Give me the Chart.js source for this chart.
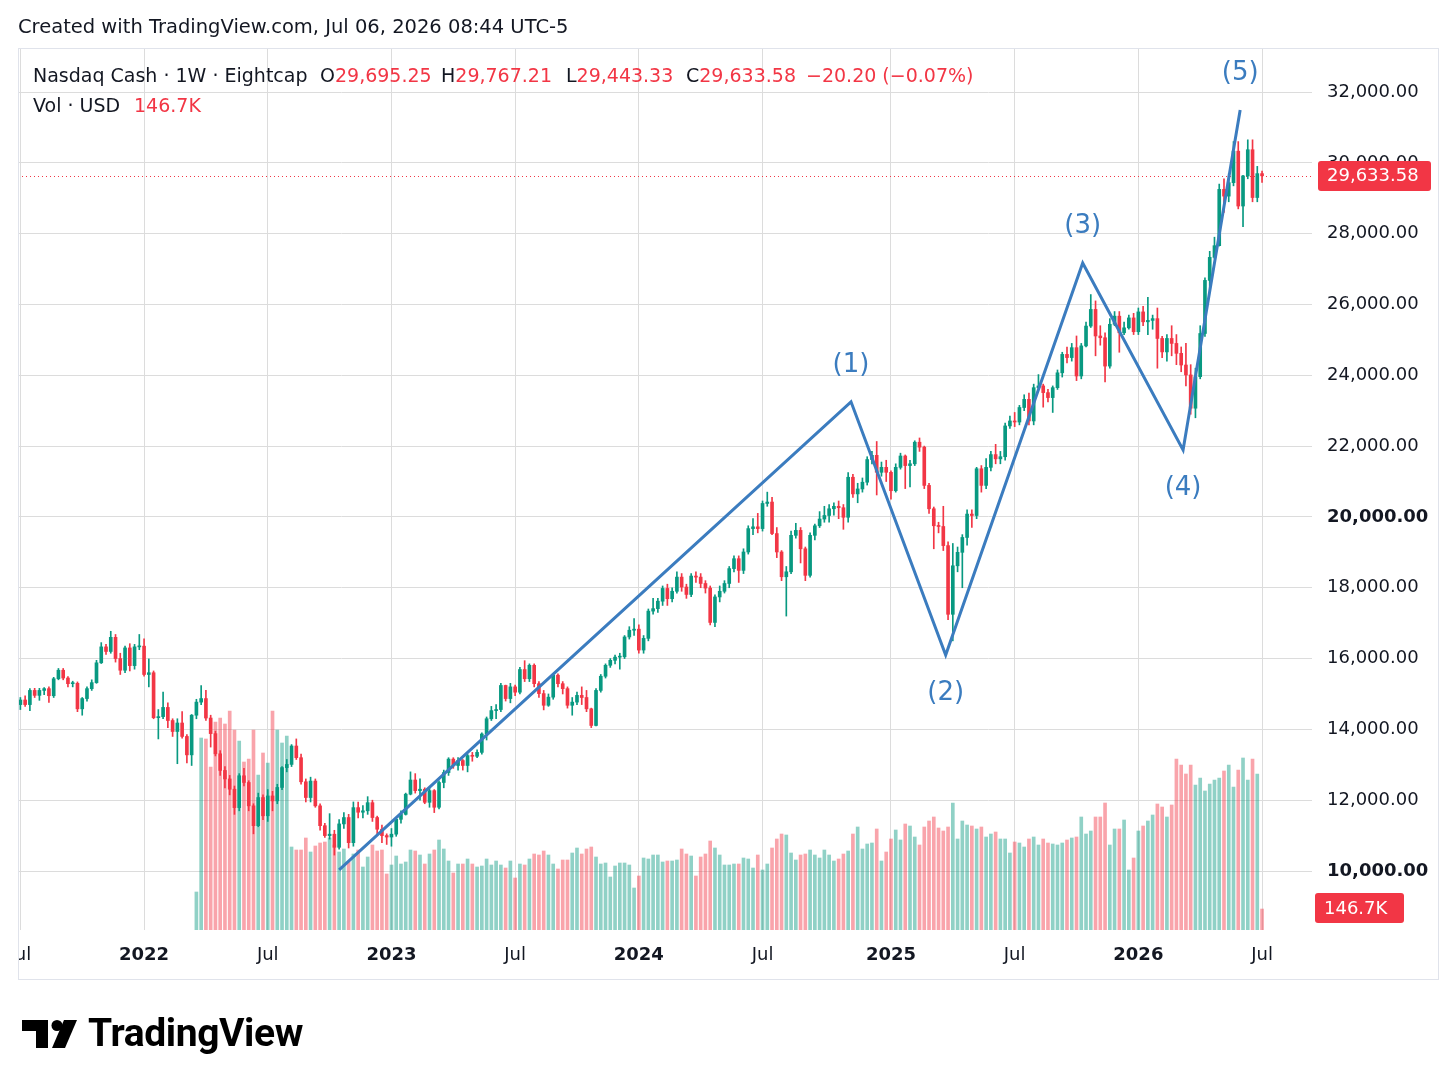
<!DOCTYPE html>
<html>
<head>
<meta charset="utf-8">
<title>Nasdaq Cash 1W</title>
<script src="https://cdn.jsdelivr.net/npm/chart.js@4.4.1/dist/chart.umd.min.js"></script>
<style>
    html, body { margin: 0; padding: 0; background: #fff; }
    #wrap { position: relative; width: 1456px; height: 1088px; font-family: "DejaVu Sans", sans-serif; color: #131722; }
    #chart { position: absolute; left: 0; top: 0; }
    .txt { position: absolute; font-size: 19px; line-height: 22px; white-space: pre; }
    .red { color: #F23645; }
    .logo-text { position: absolute; left: 88px; top: 1010px; font-family: Roboto, sans-serif; font-weight: bold; font-size: 39px; letter-spacing: -0.4px; color: #000; }
</style>
</head>
<body>
<div id="wrap">
    <canvas id="chart" width="1456" height="1088"></canvas>

    <div class="txt" style="left:18px; top:16px; font-size:19.5px;">Created with TradingView.com, Jul 06, 2026 08:44 UTC-5</div>

    <div class="txt" style="left:33px; top:64px;">Nasdaq Cash · 1W · Eightcap</div>
    <div class="txt" style="left:320px; top:64px;">O<span class="red">29,695.25</span></div>
    <div class="txt" style="left:441px; top:64px;">H<span class="red">29,767.21</span></div>
    <div class="txt" style="left:566px; top:64px;">L<span class="red">29,443.33</span></div>
    <div class="txt" style="left:686px; top:64px;">C<span class="red">29,633.58</span></div>
    <div class="txt red" style="left:806px; top:64px;">−20.20 (−0.07%)</div>
    <div class="txt" style="left:33px; top:94px;">Vol · USD</div>
    <div class="txt red" style="left:134px; top:94px;">146.7K</div>

    <svg style="position:absolute; left:22px; top:1020px;" width="56" height="30" viewBox="0 0 56 30">
        <rect x="0" y="0" width="26" height="11" fill="#000"/>
        <rect x="14" y="0" width="12" height="28" fill="#000"/>
        <circle cx="35" cy="5.5" r="5.5" fill="#000"/>
        <polygon points="42,0 55,0 43,28 30,28" fill="#000"/>
    </svg>
    <div class="logo-text">TradingView</div>
</div>

<script>
// ---- weekly candles, first bar = week of 2021-07-05 ----
const startDate = Date.UTC(2021, 6, 5);
const firstOpen = 14700;

const closes = [
    14830, 14700, 15100, 14960, 15100, 15150, 14950, 15430, 15670, 15450,
    15290, 15300, 14580, 14870, 15150, 15320, 15880, 16330, 16200, 16600,
    16000, 15670, 16300, 15800, 16330, 16350, 15550, 15600, 14330, 14360,
    14620, 14250, 13940, 14180, 13800, 13280, 14400, 14770, 14870, 14320,
    13880, 13310, 12840, 12600, 12310, 11790, 12690, 12500, 11840, 11280,
    12075, 11560, 12120, 11980, 12360, 12920, 13010, 13530, 13200, 12520,
    12075, 12540, 11840, 11280, 11000, 11040, 10670, 11330, 11510, 10800,
    11790, 11660, 11700, 11930, 11510, 11180, 11000, 10960, 11040, 11460,
    11600, 12170, 12570, 12270, 12310, 11940, 12270, 11800, 12500, 12780,
    13160, 12980, 13120, 12980, 13260, 13240, 13350, 13870, 14300, 14530,
    14560, 15240, 14870, 15200, 15050, 15690, 15430, 15810, 15290, 15010,
    14680, 14910, 15530, 15290, 15150, 14680, 14770, 14960, 14900, 14580,
    14110, 15100, 15500, 15810, 15950, 16040, 16050, 16610, 16800, 16830,
    16240, 16570, 17340, 17410, 17620, 17980, 17690, 17900, 18300, 18020,
    17810, 18330, 18300, 18120, 17990, 17020, 17740, 17900, 18120, 18540,
    18820, 18490, 19010, 19670, 19720, 19670, 20380, 20420, 19530, 19010,
    18310, 18450, 19480, 19620, 19100, 18350, 19480, 19750, 19940, 20040,
    20230, 20300, 20260, 19990, 21120, 20650, 20790, 20980, 21620, 21740,
    21260, 21400, 21260, 20740, 21400, 21720, 21450, 21500, 22110, 21970,
    20890, 20230, 19750, 19730, 19190, 17250, 18620, 19000, 19420, 20080,
    20040, 21360, 20890, 21400, 21760, 21640, 21700, 22570, 22710, 22680,
    23090, 23320, 22710, 23650, 23700, 23510, 23370, 23650, 24070, 24590,
    24500, 24780, 23980, 24830, 25390, 25860, 25110, 25060, 24260, 25440,
    25670, 25200, 25340, 25620, 25230, 25790, 25510, 25550, 25600, 25040,
    24660, 25040, 24900, 24620, 24290, 24010, 23070, 23960, 25180, 26680,
    27330, 27660, 29250, 29060, 29440, 30330, 28780, 29630, 30370, 29020,
    29695.25, 29633.58
];

const highs = [
    14900, 14950, 15150, 15160, 15160, 15180, 15200, 15470, 15720, 15720,
    15490, 15360, 15340, 14900, 15200, 15400, 15950, 16450, 16400, 16770,
    16680, 16150, 16350, 16420, 16400, 16680, 16560, 15990, 15650, 14560,
    15050, 14750, 14300, 14300, 14500, 13850, 14420, 14850, 15240, 15100,
    14400, 13950, 13400, 12950, 12700, 12400, 12750, 12900, 12550, 11900,
    12200, 12150, 12300, 12250, 12450, 12950, 13150, 13570, 13730, 13300,
    12600, 12650, 12600, 11900, 11350, 11620, 11150, 11450, 11650, 11600,
    11950, 11950, 11850, 12100, 12000, 11550, 11300, 11050, 11200, 11500,
    11700, 12200, 12800, 12750, 12600, 12350, 12350, 12300, 12550, 12850,
    13200, 13200, 13200, 13150, 13300, 13350, 13420, 13900, 14350, 14650,
    14700, 15300, 15250, 15300, 15250, 15750, 15940, 15850, 15850, 15350,
    15100, 15000, 15560, 15570, 15350, 15200, 14900, 15050, 15200, 15100,
    14600, 15150, 15550, 15850, 16000, 16100, 16150, 16650, 16900, 17130,
    16950, 16650, 17400, 17700, 17700, 18050, 18100, 18000, 18450, 18400,
    18100, 18400, 18450, 18400, 18200, 18050, 17800, 18050, 18200, 18600,
    18900, 18900, 19100, 19750, 19950, 20100, 20450, 20700, 20550, 19700,
    19050, 18600, 19600, 19820, 19700, 19150, 19550, 19800, 20150, 20300,
    20350, 20400, 20450, 20350, 21250, 21200, 20950, 21100, 21700, 21850,
    22130, 21550, 21600, 21300, 21500, 21800, 21750, 21600, 22150, 22230,
    22000, 20950, 20280, 19850, 20300, 19300, 19250, 19150, 19500, 20200,
    20200, 21400, 21450, 21650, 21850, 22050, 21850, 22650, 22850, 22950,
    23150, 23450, 23500, 23750, 24020, 23750, 23600, 23700, 24150, 24650,
    24800, 24900, 25110, 24900, 25500, 26280, 26100, 25400, 25200, 25600,
    25800, 25800, 25500, 25700, 25750, 25900, 25950, 26200, 25700, 25900,
    25100, 25150, 25400, 25150, 24800, 24900, 24300, 24200, 25400, 26750,
    27500, 27900, 29400, 29550, 29700, 30600, 30600, 29650, 30650, 30650,
    29900, 29767.21
];

const lows = [
    14560, 14650, 14530, 14900, 14820, 14980, 14760, 14900, 15400, 15400,
    15200, 15200, 14500, 14400, 14800, 15100, 15300, 15860, 16120, 16150,
    15900, 15550, 15600, 15650, 15700, 16250, 15500, 15200, 14300, 13730,
    14300, 14050, 13800, 13030, 13750, 13050, 12980, 14300, 14700, 14250,
    13500, 13250, 12700, 12350, 12150, 11600, 11700, 12400, 11700, 11050,
    11250, 11450, 11400, 11700, 11900, 12300, 12800, 12950, 13150, 12450,
    11950, 11950, 11800, 11150, 10950, 10900, 10450, 10620, 11200, 10650,
    10700, 11500, 11500, 11600, 11400, 11000, 10800, 10750, 10700, 10980,
    11350, 11580, 12150, 12200, 12000, 11900, 11800, 11650, 11750, 12350,
    12700, 12900, 12850, 12850, 12800, 13100, 13200, 13300, 13700, 14250,
    14300, 14500, 14800, 14750, 14950, 15000, 15350, 15350, 15200, 14900,
    14550, 14650, 14850, 15200, 15000, 14600, 14400, 14700, 14700, 14500,
    14050, 14100, 15050, 15450, 15750, 15850, 15700, 16000, 16550, 16650,
    16150, 16150, 16500, 17250, 17300, 17500, 17500, 17600, 17850, 17900,
    17700, 17750, 18150, 18000, 17850, 16950, 16900, 17600, 17850, 18000,
    18450, 18150, 18400, 18950, 19500, 19550, 19600, 20300, 19500, 18850,
    18200, 17200, 18400, 19400, 18700, 18200, 18300, 19350, 19700, 19850,
    19850, 20050, 19950, 19650, 19850, 20550, 20400, 20700, 20900, 21500,
    20620, 21150, 21000, 20500, 20700, 21350, 20800, 20850, 21450, 21850,
    20800, 20100, 19100, 19550, 19050, 17100, 16500, 18450, 18000, 19200,
    19700, 19950, 20700, 20800, 21300, 21500, 21500, 21600, 22500, 22550,
    22600, 23000, 22600, 22600, 23600, 23100, 23250, 22950, 23600, 23950,
    24350, 24400, 23850, 23900, 24800, 25350, 24550, 24850, 23810, 24200,
    25400, 24650, 25150, 25300, 25150, 25150, 25400, 25150, 25300, 24200,
    24500, 24400, 24550, 24300, 24100, 23700, 22900, 22800, 23900, 25100,
    26350, 27300, 27650, 28600, 28900, 29350, 28700, 28200, 29550, 28900,
    28900, 29443.33
];

// volume in thousands (USD); no volume data for the first 37 weeks
const volumeK = Array(37).fill(null).concat([
    266, 1344, 1337, 1141, 1456, 1484, 1442, 1533, 1400, 1323,
    1176, 1197, 1400, 1085, 1239, 1169, 1533, 1400, 1309, 1358,
    581, 560, 560, 644, 546, 588, 609, 616, 644, 595,
    546, 567, 476, 532, 560, 441, 511, 595, 553, 560,
    392, 455, 518, 462, 476, 560, 553, 525, 462, 532,
    560, 630, 567, 483, 399, 462, 462, 497, 462, 441,
    448, 497, 455, 483, 455, 434, 483, 364, 462, 455,
    497, 532, 525, 553, 525, 462, 427, 490, 490, 539,
    574, 532, 567, 581, 511, 462, 469, 371, 448, 469,
    469, 455, 294, 378, 504, 497, 525, 525, 476, 483,
    483, 490, 567, 532, 518, 378, 511, 532, 623, 574,
    525, 455, 455, 462, 462,
    504, 497, 434, 525, 420, 462, 574, 637, 672, 665,
    539, 490, 525, 532, 560, 525, 504, 560, 525, 483,
    497, 532, 553, 672, 721, 567, 602, 609, 707, 483,
    546, 637, 700, 630, 742, 728, 651, 595, 721, 763,
    791, 714, 693, 721, 889, 637, 763, 735, 728, 707,
    721, 651, 672, 686, 637, 637, 539, 616, 609, 581,
    637, 651, 595, 637, 609, 602, 595, 609, 630, 644,
    651, 791, 672, 693, 791, 791, 889, 595, 707, 707,
    770, 420, 504, 693, 728, 763, 805, 882, 861, 791,
    875, 1197, 1155, 1092, 1155, 1015, 1064, 973, 1022, 1050,
    1064, 1113, 1155, 1001, 1120, 1204, 1050, 1197, 1092, 146.7
]);

// Elliott wave pivots (bar index, price)
const waveX = [67, 174.6, 194.5, 223.3, 244.4, 256.4];
const waveY = [10030, 23250, 16100, 27170, 21890, 31490];
const waveLabels = ['', '(1)', '(2)', '(3)', '(4)', '(5)'];

const xTickText = ['Jul', '2022', 'Jul', '2023', 'Jul', '2024', 'Jul', '2025', 'Jul', '2026', 'Jul'];
const yTicks = [10000, 12000, 14000, 16000, 18000, 20000, 22000, 24000, 26000, 28000, 30000, 32000];
const lastPrice = 29633.58;

const UP = '#089981';
const DOWN = '#F23645';
const UP_VOL = 'rgba(8,153,129,0.45)';
const DOWN_VOL = 'rgba(242,54,69,0.45)';
const WAVE = '#3b7cbf';

const opens = closes.map((c, i) => i === 0 ? firstOpen : closes[i - 1]);
const isUp = closes.map((c, i) => c >= opens[i]);

// first weekly bar of each January / July gets a tick
const weekMs = 7 * 864e5;
const months = closes.map((_, i) => new Date(startDate + i * weekMs).getUTCMonth());
const xTickIdx = [];
months.forEach((m, i) => {
    if ((m === 0 || m === 6) && (i === 0 || months[i - 1] !== m)) xTickIdx.push(i);
});
const xTickMap = {};
xTickIdx.forEach((v, k) => { xTickMap[v] = xTickText[k]; });

const fmt = v => v.toLocaleString('en-US', { minimumFractionDigits: 2, maximumFractionDigits: 2 });

const overlay = {
    id: 'overlay',
    beforeDatasetsDraw(chart) {
        const { ctx, chartArea, scales } = chart;
        const y = Math.round(scales.y.getPixelForValue(lastPrice)) + 0.5;
        ctx.save();
        ctx.strokeStyle = DOWN;
        ctx.lineWidth = 1;
        ctx.setLineDash([1, 3]);
        ctx.beginPath();
        ctx.moveTo(chartArea.left, y);
        ctx.lineTo(chartArea.right, y);
        ctx.stroke();
        ctx.restore();
    },
    afterDraw(chart) {
        const { ctx, chartArea, scales } = chart;
        ctx.save();

        // hide the part of the first "Jul" label that falls left of the frame
        ctx.fillStyle = '#fff';
        ctx.fillRect(0, chartArea.bottom + 1, chartArea.left, 48);

        // outer frame
        ctx.strokeStyle = '#e0e3eb';
        ctx.lineWidth = 1;
        ctx.strokeRect(chartArea.left + 0.5, chartArea.top + 0.5, 1438 - chartArea.left, 979 - chartArea.top);

        // wave labels
        ctx.fillStyle = WAVE;
        ctx.font = '26px "DejaVu Sans", sans-serif';
        ctx.textAlign = 'center';
        ctx.textBaseline = 'middle';
        for (let k = 1; k < waveX.length; k++) {
            const px = scales.x.getPixelForValue(waveX[k]);
            const py = scales.y.getPixelForValue(waveY[k]);
            const up = waveY[k] > waveY[k - 1];
            ctx.fillText(waveLabels[k], px, up ? py - 37 : py + 38);
        }

        // last price and last volume tags
        const tag = (text, x, yMid, w) => {
            ctx.fillStyle = DOWN;
            ctx.beginPath();
            ctx.roundRect(x, Math.round(yMid - 15), w, 30, 3);
            ctx.fill();
            ctx.fillStyle = '#fff';
            ctx.font = '18px "DejaVu Sans", sans-serif';
            ctx.textAlign = 'left';
            ctx.textBaseline = 'middle';
            ctx.fillText(text, x + 9, yMid + 1);
        };
        tag(fmt(lastPrice), 1318, scales.y.getPixelForValue(lastPrice), 113);
        tag('146.7K', 1315, scales.yVol.getPixelForValue(volumeK[volumeK.length - 1]) - 1, 89);
        ctx.restore();
    }
};

new Chart(document.getElementById('chart'), {
    type: 'bar',
    data: {
        datasets: [
            {
                type: 'line',
                data: waveX.map((x, k) => ({ x, y: waveY[k] })),
                borderColor: WAVE,
                borderWidth: 3,
                pointRadius: 0,
                tension: 0,
                borderJoinStyle: 'miter',
                order: 0
            },
            {
                data: closes.map((c, i) => ({ x: i, y: [opens[i], c] })),
                backgroundColor: isUp.map(u => u ? UP : DOWN),
                barThickness: 3,
                minBarLength: 1,
                grouped: false,
                order: 1
            },
            {
                data: closes.map((c, i) => ({
                    x: i,
                    y: [Math.min(lows[i], opens[i], c), Math.max(highs[i], opens[i], c)]
                })),
                backgroundColor: isUp.map(u => u ? UP : DOWN),
                barThickness: 1,
                grouped: false,
                order: 2
            },
            {
                data: volumeK.map((v, i) => ({ x: i, y: v })),
                yAxisID: 'yVol',
                backgroundColor: isUp.map(u => u ? UP_VOL : DOWN_VOL),
                barThickness: 3,
                grouped: false,
                order: 3
            }
        ]
    },
    options: {
        responsive: false,
        devicePixelRatio: 1,
        animation: false,
        events: [],
        layout: { padding: { left: 18, top: 48, right: 0, bottom: 109 } },
        plugins: { legend: { display: false }, tooltip: { enabled: false } },
        scales: {
            x: {
                type: 'linear',
                min: -0.5,
                max: closes.length + 9.5,
                offset: false,
                grid: { color: '#dcdcdc', drawTicks: false, offset: false },
                border: { display: false },
                afterBuildTicks: s => { s.ticks = xTickIdx.map(v => ({ value: v })); },
                afterFit: s => { s.height = 49; s.paddingLeft = 0; s.paddingRight = 0; },
                ticks: {
                    autoSkip: false,
                    maxRotation: 0,
                    padding: 15,
                    color: '#131722',
                    font: ctx => ({
                        family: '"DejaVu Sans", sans-serif',
                        size: 18,
                        weight: ctx.tick && /^\d/.test(xTickMap[ctx.tick.value] || '') ? 'bold' : 'normal'
                    }),
                    callback: v => xTickMap[v] || ''
                }
            },
            y: {
                position: 'right',
                min: 8334,
                max: 33243,
                grid: { color: '#dcdcdc', drawTicks: false },
                border: { display: false },
                afterBuildTicks: s => { s.ticks = yTicks.map(v => ({ value: v })); },
                afterFit: s => { s.width = 144; s.paddingTop = 0; s.paddingBottom = 0; },
                ticks: {
                    padding: 15,
                    color: '#131722',
                    font: ctx => ({
                        family: '"DejaVu Sans", sans-serif',
                        size: 18,
                        weight: ctx.tick && (ctx.tick.value === 10000 || ctx.tick.value === 20000) ? 'bold' : 'normal'
                    }),
                    callback: v => fmt(v)
                }
            },
            yVol: {
                display: false,
                min: 0,
                max: 882 * 7
            }
        }
    },
    plugins: [overlay]
});
</script>
</body>
</html>
